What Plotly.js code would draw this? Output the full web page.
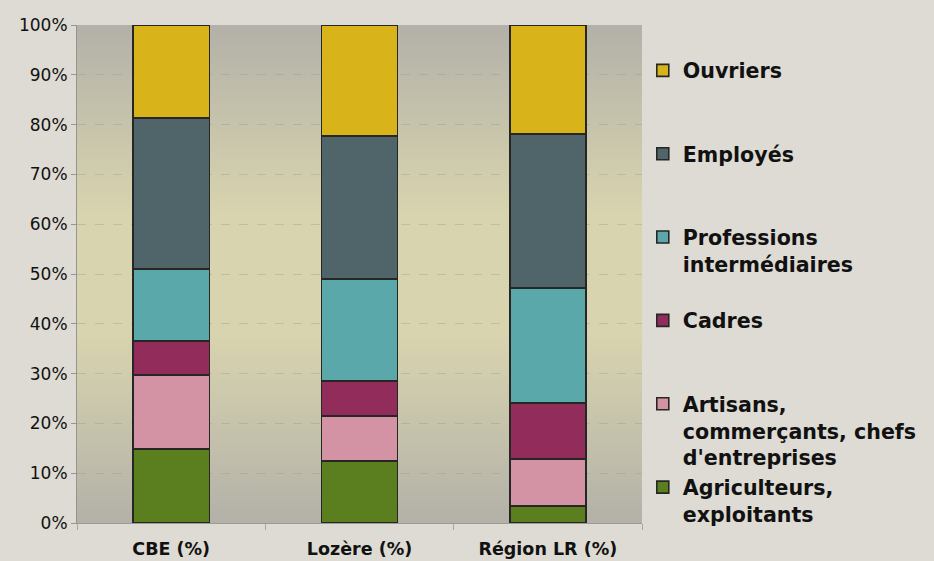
<!DOCTYPE html>
<html>
<head>
<meta charset="utf-8">
<script src="https://cdn.plot.ly/plotly-3.0.1.min.js"></script>
<style>
html,body{margin:0;padding:0;background:#dddbd3;}
#chart{width:934px;height:561px;}
</style>
</head>
<body>
<div id="chart"></div>
<script>
const categories = ["CBE (%)", "Lozère (%)", "Région LR (%)"];
const seriesNames = [
  "Agriculteurs,<br>exploitants",
  "Artisans,<br>commerçants, chefs<br>d'entreprises",
  "Cadres",
  "Professions<br>intermédiaires",
  "Employés",
  "Ouvriers"
];
const agriculteurs = [14.9, 12.4, 3.4];
const artisans     = [14.8, 9.1, 9.5];
const cadres       = [6.8, 7.0, 11.2];
const professions  = [14.5, 20.5, 23.1];
const employes     = [30.3, 28.7, 30.9];
const ouvriers     = [18.7, 22.3, 21.9];
const seriesValues = [agriculteurs, artisans, cadres, professions, employes, ouvriers];
const seriesColors = ["#5b7f1e", "#d493a4", "#922d5b", "#5ba8ab", "#4f6569", "#d9b31a"];
const yTickVals = [0,10,20,30,40,50,60,70,80,90,100];
const yTickText = ["0%","10%","20%","30%","40%","50%","60%","70%","80%","90%","100%"];

// pad legend entries to three lines so entries are evenly spaced
function padLines(name){
  const n = name.split("<br>").length;
  let s = name;
  for(let i=n;i<3;i++) s += "<br>\u00a0";
  return s;
}

const traces = seriesValues.map((vals, i) => ({
  type: "bar",
  name: padLines(seriesNames[i]),
  x: categories,
  y: vals,
  marker: {color: seriesColors[i], line: {color: "#262624", width: 1.6}},
  hoverinfo: "skip"
}));

const svg = '<svg xmlns="http://www.w3.org/2000/svg" width="100" height="100" preserveAspectRatio="none">' +
  '<defs><linearGradient id="g" x1="0" y1="0" x2="0" y2="1">' +
  '<stop offset="0" stop-color="#b3b1a8"/>' +
  '<stop offset="0.38" stop-color="#d8d4af"/>' +
  '<stop offset="0.62" stop-color="#d8d4af"/>' +
  '<stop offset="1" stop-color="#b3b1a8"/>' +
  '</linearGradient></defs><rect width="100" height="100" fill="url(#g)"/></svg>';
const bgSrc = "data:image/svg+xml;charset=utf-8," + encodeURIComponent(svg);

const layout = {
  width: 934, height: 561,
  paper_bgcolor: "#dddbd3",
  plot_bgcolor: "rgba(0,0,0,0)",
  margin: {l: 77, r: 292, t: 25, b: 38},
  barmode: "stack",
  bargap: 0.595,
  font: {family: "DejaVu Sans, sans-serif", color: "#111"},
  showlegend: true,
  legend: {
    traceorder: "reversed",
    xref: "container", yref: "container",
    x: 0.6882, xanchor: "left",
    y: 0.91, yanchor: "top",
    maxheight: 560,
    valign: "top",
    bgcolor: "rgba(0,0,0,0)",
    font: {family: "DejaVu Sans, sans-serif", size: 20.6, weight: "bold", color: "#111"}
  },
  xaxis: {
    type: "category",
    showline: true, linecolor: "#9c9a92", linewidth: 1,
    ticks: "outside", tickson: "boundaries", ticklen: 6, tickcolor: "#a9a79f",
    ticklabelstandoff: 10,
    tickfont: {family: "DejaVu Sans, sans-serif", size: 17.5, weight: "bold", color: "#111"},
    showgrid: false, fixedrange: true
  },
  yaxis: {
    range: [0, 100],
    tickmode: "array",
    tickvals: yTickVals,
    ticktext: yTickText,
    showline: true, linecolor: "#96948c", linewidth: 1,
    ticks: "outside", ticklen: 5, tickcolor: "#96948c",
    tickfont: {family: "DejaVu Sans, sans-serif", size: 17, color: "#111"},
    showgrid: true, gridcolor: "rgba(150,148,135,0.35)", griddash: "dash", gridwidth: 1,
    zeroline: false, fixedrange: true
  },
  images: [{
    source: bgSrc, xref: "paper", yref: "paper",
    x: 0, y: 1, sizex: 1, sizey: 1, xanchor: "left", yanchor: "top",
    sizing: "stretch", layer: "below"
  }]
};

Plotly.newPlot("chart", traces, layout, {displayModeBar: false, staticPlot: true});
</script>
</body>
</html>
